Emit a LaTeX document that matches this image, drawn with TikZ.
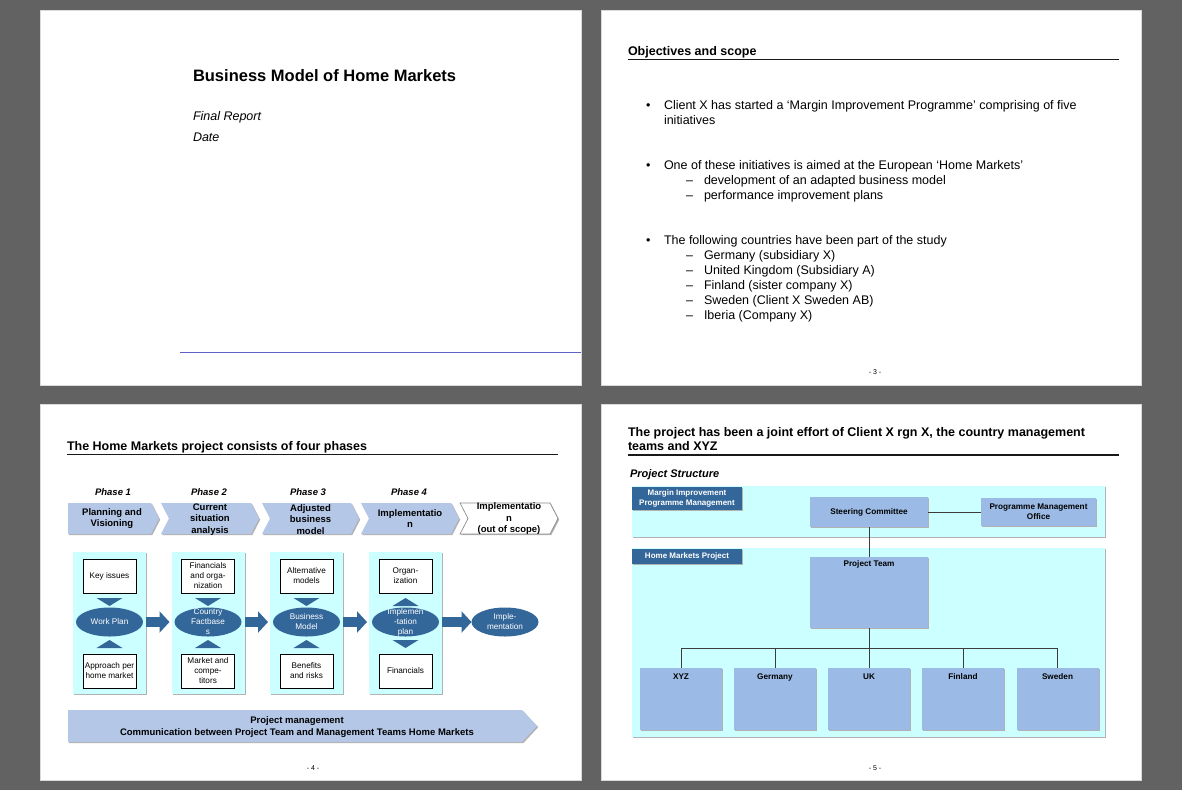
\documentclass[tikz,border=0pt]{standalone}
\usepackage{fontspec}
\setmainfont{Liberation Sans}
\usetikzlibrary{shapes.geometric,arrows.meta,shadows}
\newcommand\myfs[2]{\fontsize{#1}{#2}\selectfont}
\definecolor{bggray}{RGB}{98,98,98}
\definecolor{panelcyan}{RGB}{204,255,255}
\definecolor{chevblue}{RGB}{180,199,231}
\definecolor{boxblue}{RGB}{155,187,230}
\definecolor{darkblue}{RGB}{51,102,153}
\definecolor{shgray}{RGB}{178,178,178}
\definecolor{lineblue}{RGB}{95,95,200}
\definecolor{connc}{RGB}{60,60,60}
\begin{document}
\begin{tikzpicture}[x=1pt,y=-1pt,
  slide/.style={fill=white,draw=black!15,line width=0.8pt},
  txt/.style={anchor=base west,inner sep=0pt,outer sep=0pt},
  ttl/.style={txt,font=\bfseries\myfs{12.5}{14}},
  body/.style={txt,font=\myfs{12.5}{15}},
  pnum/.style={anchor=base,inner sep=0pt,font=\myfs{7}{8}},
  rule/.style={line width=1.4pt,black!90},
  shad/.style={drop shadow={shadow xshift=1.2pt,shadow yshift=-1.2pt,fill=shgray,opacity=1}},
  chev/.style={fill=chevblue,shad},
  chevtext/.style={align=center,inner sep=0pt,font=\bfseries\myfs{9.5}{11.5}},
  phase/.style={anchor=base,inner sep=0pt,font=\bfseries\itshape\myfs{9.5}{11}},
  panel/.style={rectangle,fill=panelcyan,shad,inner sep=0pt,outer sep=0pt,minimum width=73pt,minimum height=142pt},
  wbox/.style={rectangle,draw=black,line width=0.7pt,fill=white,inner sep=0pt,minimum width=53pt,minimum height=34pt,align=center,font=\myfs{8.2}{10}},
  ell/.style={ellipse,fill=darkblue,inner sep=0pt,outer sep=0pt,minimum width=67pt,minimum height=29pt},
  elltext/.style={align=center,inner sep=0pt,text=white,font=\myfs{8.2}{10}},
  tri/.style={fill=darkblue},
  bigarrow/.style={draw=darkblue,line width=10pt,-{Triangle[length=10pt,width=21pt]}},
  panelb/.style={rectangle,fill=panelcyan,shad,inner sep=0pt,outer sep=0pt,minimum width=473pt},
  dlabel/.style={rectangle,fill=darkblue,shad,inner sep=0pt,outer sep=0pt,minimum width=110pt,align=center,text=white,font=\bfseries\myfs{8}{10}},
  bbox/.style={rectangle,fill=boxblue,shad,inner sep=0pt,outer sep=0pt,align=center,font=\bfseries\myfs{8.2}{10}},
  lbl4/.style={anchor=base,inner sep=0pt,font=\bfseries\myfs{8.2}{10}},
  conn/.style={draw=connc,line width=0.8pt}
]
\useasboundingbox (0,0) rectangle (1182,790);
\fill[bggray] (0,0) rectangle (1182,790);
% slides
\draw[slide] (40,10) rectangle (581,385);
\draw[slide] (601,10) rectangle (1141,385);
\draw[slide] (40,404) rectangle (581,780);
\draw[slide] (601,404) rectangle (1141,780);

% ---------- slide 1
\node[txt,font=\bfseries\myfs{16.5}{19}] (s1title) at (193,81) {Business Model of Home Markets};
\node[txt,font=\itshape\myfs{12.5}{15}] (s1sub) at (193,120) {Final Report};
\node[txt,font=\itshape\myfs{12.5}{15}] (s1date) at (193,141) {Date};
\draw[lineblue,line width=0.8pt] (180,352) -- (581,352);

% ---------- slide 2
\node[ttl] (s2title) at (628,55) {Objectives and scope};
\draw[rule] (628,59.5) -- (1119,59.5);
\node[body] (bu1) at (646,109) {•};
\node[body] (bu2) at (646,169) {•};
\node[body] (bu3) at (646,244) {•};
\node[body] (l1) at (664,109) {Client X has started a ‘Margin Improvement Programme’ comprising of five};
\node[body] (l2) at (664,124) {initiatives};
\node[body] (l3) at (664,169) {One of these initiatives is aimed at the European ‘Home Markets’};
\node[body] (d1) at (686,184) {–};
\node[body] (l4) at (704,184) {development of an adapted business model};
\node[body] (d2) at (686,199) {–};
\node[body] (l5) at (704,199) {performance improvement plans};
\node[body] (l6) at (664,244) {The following countries have been part of the study};
\node[body] (d3) at (686,259) {–};
\node[body] (l7) at (704,259) {Germany (subsidiary X)};
\node[body] (d4) at (686,274) {–};
\node[body] (l8) at (704,274) {United Kingdom (Subsidiary A)};
\node[body] (d5) at (686,289) {–};
\node[body] (l9) at (704,289) {Finland (sister company X)};
\node[body] (d6) at (686,304) {–};
\node[body] (l10) at (704,304) {Sweden (Client X Sweden AB)};
\node[body] (d7) at (686,319) {–};
\node[body] (l11) at (704,319) {Iberia (Company X)};
\node[pnum] (pn3) at (875,374) {- 3 -};

% ---------- slide 3
\node[ttl] (s3title) at (67,450) {The Home Markets project consists of four phases};
\draw[rule] (67,454.5) -- (558,454.5);
\node[phase] (ph1) at (113,495) {Phase 1};
\node[phase] (ph2) at (209,495) {Phase 2};
\node[phase] (ph3) at (308,495) {Phase 3};
\node[phase] (ph4) at (409,495) {Phase 4};
\path[chev] (68,503) -- (151,503) -- (159,518.5) -- (151,534) -- (68,534) -- cycle;
\path[chev] (161,503) -- (251,503) -- (259,518.5) -- (251,534) -- (161,534) -- (169,518.5) -- cycle;
\path[chev] (262,503) -- (351,503) -- (359,518.5) -- (351,534) -- (262,534) -- (270,518.5) -- cycle;
\path[chev] (361,503) -- (451,503) -- (459,518.5) -- (451,534) -- (361,534) -- (369,518.5) -- cycle;
\path[fill=white,draw=black!45,line width=0.7pt,shad] (460,503) -- (550,503) -- (558,518.5) -- (550,534) -- (460,534) -- (468,518.5) -- cycle;
\node[chevtext] (c1) at (112,518.5) {Planning and\\Visioning};
\node[chevtext] (c2) at (210,519.5) {Current\\situation\\analysis};
\node[chevtext] (c3) at (310.5,519.5) {Adjusted\\business\\model};
\node[chevtext] (c4) at (410,518.5) {Implementatio\\n};
\node[chevtext] (c5) at (509,519) {Implementatio\\n\\(out of scope)};

\node[panel] (p1) at (109.5,623) {};
\node[panel] (p2) at (208,623) {};
\node[panel] (p3) at (306.5,623) {};
\node[panel] (p4) at (405.5,623) {};

\fill[tri] (96.5,598) -- (122.5,598) -- (109.5,606) -- cycle;
\fill[tri] (96.5,648) -- (122.5,648) -- (109.5,640) -- cycle;
\fill[tri] (195,598) -- (221,598) -- (208,606) -- cycle;
\fill[tri] (195,648) -- (221,648) -- (208,640) -- cycle;
\fill[tri] (293.5,598) -- (319.5,598) -- (306.5,606) -- cycle;
\fill[tri] (293.5,648) -- (319.5,648) -- (306.5,640) -- cycle;
\fill[tri] (392.5,606) -- (418.5,606) -- (405.5,598) -- cycle;
\fill[tri] (392.5,640) -- (418.5,640) -- (405.5,648) -- cycle;

\node[ell] (e1) at (109.5,622) {};
\node[ell] (e2) at (208,622) {};
\node[ell] (e3) at (306.5,622) {};
\node[ell] (e4) at (405.5,622) {};
\node[ell] (e5) at (505,622) {};
\node[elltext] (e1t) at (e1) {Work Plan};
\node[elltext] (e2t) at (e2) {Country\\Factbase\\s};
\node[elltext] (e3t) at (e3) {Business\\Model};
\node[elltext] (e4t) at (e4) {Implemen\\-tation\\plan};
\node[elltext] (e5t) at (e5) {Imple-\\mentation};

\node[wbox] (k1) at (109.5,576) {Key issues};
\node[wbox] (k2) at (208,576) {Financials\\and orga-\\nization};
\node[wbox] (k3) at (306.5,576) {Alternative\\models};
\node[wbox] (k4) at (405.5,576) {Organ-\\ization};
\node[wbox] (m1) at (109.5,671) {Approach per\\home market};
\node[wbox] (m2) at (208,671) {Market and\\compe-\\titors};
\node[wbox] (m3) at (306.5,671) {Benefits\\and risks};
\node[wbox] (m4) at (405.5,671) {Financials};

\draw[bigarrow] (p1.east |- e1.center) -- ([xshift=-2pt]p2.west |- e2.center);
\draw[bigarrow] (p2.east |- e2.center) -- ([xshift=-2pt]p3.west |- e3.center);
\draw[bigarrow] (p3.east |- e3.center) -- ([xshift=-2pt]p4.west |- e4.center);
\draw[bigarrow] (p4.east |- e4.center) -- (e5.west);

\path[chev] (68,710) -- (522,710) -- (537,726) -- (522,742) -- (68,742) -- cycle;
\node[chevtext,font=\bfseries\myfs{9.5}{12}] (pm) at (297,727) {Project management\\Communication between Project Team and Management Teams Home Markets};
\node[pnum] (pn4) at (313,770) {- 4 -};

% ---------- slide 4
\node[ttl] (s4a) at (628,436) {The project has been a joint effort of Client X rgn X, the country management};
\node[ttl] (s4b) at (628,450) {teams and XYZ};
\draw[rule] (628,455) -- (1119,455);
\node[txt,font=\bfseries\itshape\myfs{11}{13}] (ps) at (630,477) {Project Structure};

\node[panelb,minimum height=51pt] (ptop) at (868.5,511.5) {};
\node[panelb,minimum height=189pt] (pbot) at (868.5,642.5) {};
\node[dlabel,minimum height=23pt] (mipm) at (687,498.5) {Margin Improvement\\Programme Management};
\node[dlabel,minimum height=15pt] (hmp) at (687,556.5) {Home Markets Project};
\node[bbox,minimum width=118pt,minimum height=30pt] (sc) at (869,512) {Steering Committee};
\node[bbox,minimum width=115pt,minimum height=28pt] (pmo) at (1038.5,512) {Programme Management\\Office};
\node[bbox,minimum width=118pt,minimum height=71pt] (pt) at (869,592.5) {};
\node[lbl4] (ptl) at (869,566) {Project Team};

\node[bbox,minimum width=82pt,minimum height=62pt] (xyz) at (681,699) {};
\node[bbox,minimum width=82pt,minimum height=62pt] (ger) at (775,699) {};
\node[bbox,minimum width=82pt,minimum height=62pt] (uk) at (869,699) {};
\node[bbox,minimum width=82pt,minimum height=62pt] (fin) at (963,699) {};
\node[bbox,minimum width=82pt,minimum height=62pt] (swe) at (1057.5,699) {};
\node[lbl4] (xyzl) at (681,679) {XYZ};
\node[lbl4] (gerl) at (775,679) {Germany};
\node[lbl4] (ukl) at (869,679) {UK};
\node[lbl4] (finl) at (963,679) {Finland};
\node[lbl4] (swel) at (1057.5,679) {Sweden};

\draw[conn] (sc.east) -- (pmo.west);
\draw[conn] (sc.south) -- (pt.north);
\foreach \c in {xyz,ger,uk,fin,swe} \draw[conn] (pt.south) -- ++(0,20) -| (\c.north);
\node[pnum] (pn5) at (875,770) {- 5 -};
\end{tikzpicture}
\end{document}
